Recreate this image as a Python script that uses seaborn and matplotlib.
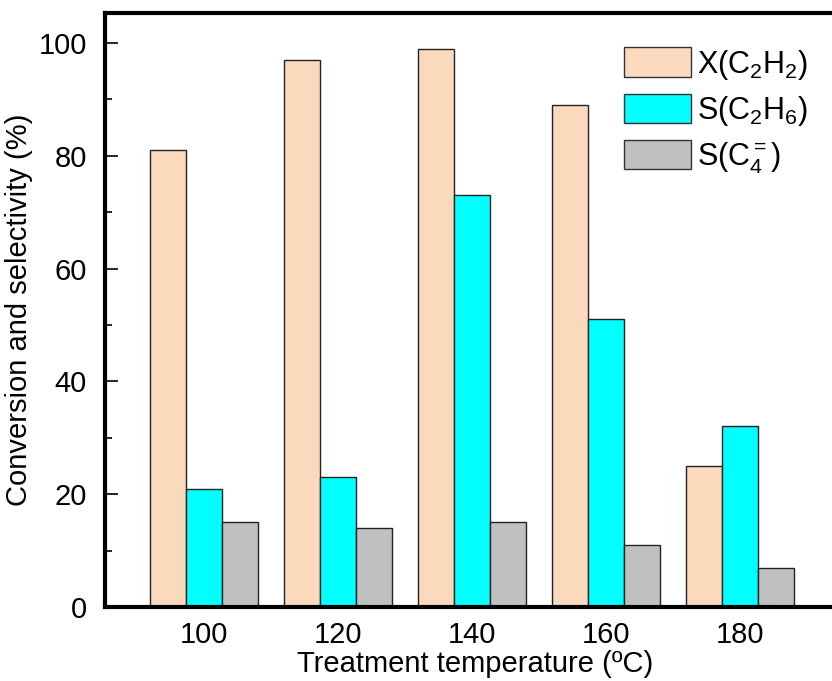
import matplotlib
matplotlib.use("Agg")
import matplotlib.pyplot as plt
from matplotlib.ticker import MultipleLocator
import seaborn as sns
import pandas as pd

temperatures = ["100", "120", "140", "160", "180"]
conv_c2h2 = [81, 97, 99, 89, 25]
sel_c2h6 = [21, 23, 73, 51, 32]
sel_c4 = [15, 14, 15, 11, 7]
series_labels = [r"X(C$_2$H$_2$)", r"S(C$_2$H$_6$)", r"S(C$_4^{=}$)"]
series_colors = ["#FAD9BC", "#00FFFF", "#C0C0C0"]

sns.set_theme(style="white")
plt.rcParams["font.family"] = ["Liberation Sans", "DejaVu Sans"]
plt.rcParams["mathtext.fontset"] = "custom"
plt.rcParams["mathtext.rm"] = "Liberation Sans"
plt.rcParams["mathtext.it"] = "Liberation Sans"
for key in ["text.color", "axes.labelcolor", "xtick.color", "ytick.color"]:
    plt.rcParams[key] = "black"

df = pd.DataFrame({
    "temp": temperatures * 3,
    "value": conv_c2h2 + sel_c2h6 + sel_c4,
    "series": [series_labels[0]] * 5 + [series_labels[1]] * 5 + [series_labels[2]] * 5,
})

fig = plt.figure(figsize=(8.32, 6.81), dpi=100)
ax = fig.add_axes([105 / 832, 74 / 681, 740 / 832, 594 / 681])

sns.barplot(data=df, x="temp", y="value", hue="series", order=temperatures,
            hue_order=series_labels, palette=series_colors, width=0.81,
            edgecolor="#222222", linewidth=1.0, saturation=1, ax=ax, errorbar=None)

ax.set_xlim(-0.74, -0.74 + 740 / 134)
ax.set_ylim(0, 105.3)
ax.yaxis.set_major_locator(MultipleLocator(20))
ax.yaxis.set_minor_locator(MultipleLocator(10))
ax.tick_params(axis="y", which="major", direction="in", length=9, width=1.2,
               labelsize=21, pad=13, left=True)
ax.tick_params(axis="y", which="minor", direction="in", length=5, width=1.2, left=True)
ax.tick_params(axis="x", length=0, labelsize=21, pad=10)

for s in ax.spines.values():
    s.set_linewidth(3)
    s.set_color("black")

ax.set_xlabel("Treatment temperature (ºC)", fontsize=21, labelpad=1)
ax.set_ylabel("Conversion and selectivity (%)", fontsize=21, labelpad=4)

leg = ax.legend(loc="upper left", bbox_to_anchor=(0.701, 0.942), frameon=False,
                fontsize=22, handlelength=2.2, handleheight=1.1,
                labelspacing=0.4, handletextpad=0.2, borderaxespad=0, borderpad=0)
for h in leg.legend_handles:
    h.set_edgecolor("#333333")
    h.set_linewidth(1.0)

fig.savefig("out.png", dpi=100)
